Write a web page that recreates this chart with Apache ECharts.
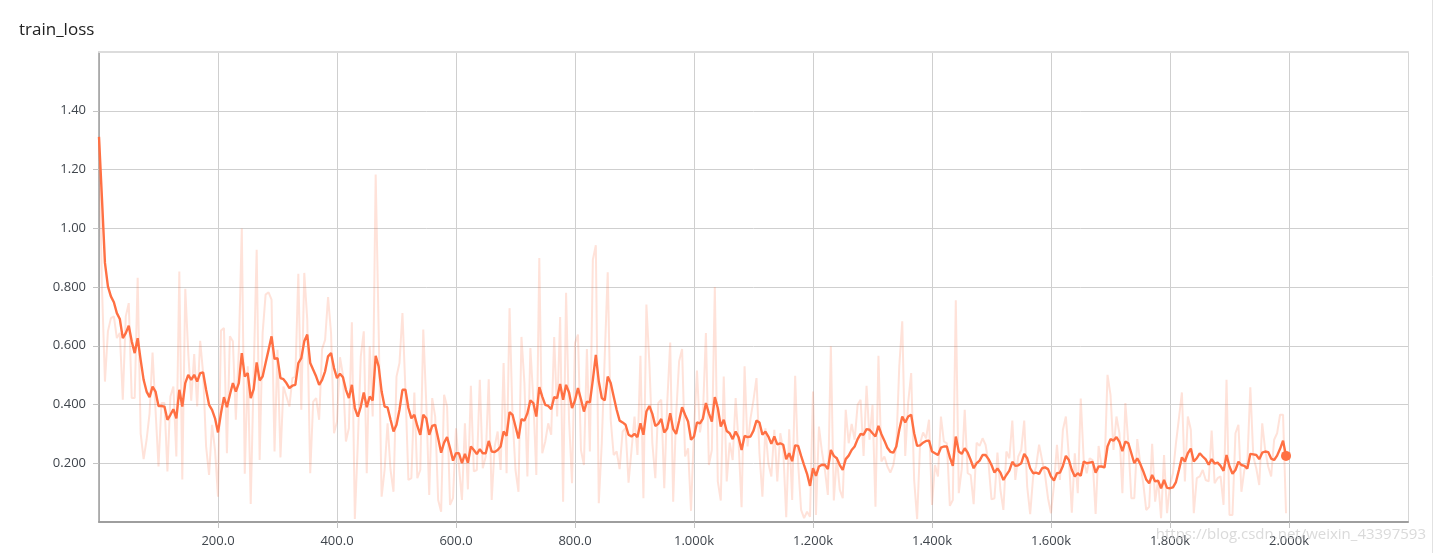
<!DOCTYPE html>
<html><head><meta charset="utf-8">
<script src="https://cdn.jsdelivr.net/npm/echarts@6/dist/echarts.min.js"></script>
<style>html,body{margin:0;padding:0;background:#fff}#c{width:1436px;height:553px}</style>
</head><body><div id="c"></div>
<script>
const chartTitle = 'train_loss';
const watermark = 'https://blog.csdn.net/weixin_43397593';
const STEP = 5; // logging interval (steps)

const rawLoss = [
1.311,0.80,0.478,0.649,0.694,0.70,0.626,0.643,0.416,0.70,
0.745,0.422,0.422,0.831,0.302,0.214,0.28,0.37,0.577,0.382,
0.189,0.405,0.405,0.172,0.427,0.461,0.223,0.853,0.145,0.794,
0.575,0.413,0.572,0.393,0.617,0.507,0.257,0.16,0.331,0.245,
0.086,0.652,0.66,0.234,0.632,0.615,0.348,0.586,0.999,0.164,
0.53,0.061,0.507,0.927,0.211,0.643,0.774,0.782,0.757,0.24,
0.586,0.22,0.461,0.427,0.393,0.49,0.495,0.845,0.382,0.848,
0.689,0.166,0.41,0.422,0.348,0.589,0.62,0.766,0.643,0.302,
0.342,0.561,0.501,0.274,
0.32,0.68,0.01,0.268,0.564,0.649,
0.166,0.598,0.359,1.183,0.655,0.086,0.177,0.336,0.177,0.103,
0.495,0.541,0.711,0.45,0.143,0.149,0.441,0.149,0.177,0.655,
0.405,0.092,0.422,0.359,0.075,0.035,0.433,0.393,0.058,0.081,
0.319,0.189,0.075,0.336,0.111,0.464,0.172,0.177,0.484,0.183,
0.223,0.486,0.075,0.257,0.308,0.177,0.541,0.166,0.728,0.359,
0.177,0.103,0.63,0.473,0.155,0.592,0.416,0.16,0.899,0.234,
0.274,0.336,0.297,0.63,0.359,0.698,0.069,0.78,0.348,0.132,
0.609,0.638,0.245,0.194,0.589,0.24,0.893,0.942,
0.064,0.268,
0.564,0.85,0.348,0.228,0.24,0.18,0.308,0.319,0.134,0.245,
0.359,0.228,0.566,0.081,0.74,0.541,0.268,0.149,0.405,0.416,
0.115,0.405,0.611,0.069,0.365,0.547,0.589,0.223,0.251,0.038,
0.311,0.516,0.305,0.365,0.643,0.194,0.245,0.8,0.138,0.073,
0.495,0.138,0.27,0.211,0.422,0.268,0.05,0.53,0.257,0.353,
0.416,0.49,0.234,0.086,0.319,0.2,0.155,0.314,0.138,0.302,
0.245,0.016,0.316,0.075,0.498,0.2,0.041,0.013,0.035,0.018,
0.444,0.024,0.325,0.24,0.177,0.092,0.598,0.073,0.22,0.11,
0.081,0.382,0.268,0.334,0.28,0.399,0.416,0.225,0.464,0.28,
0.399,0.052,0.566,0.206,0.223,0.189,0.168,0.194,0.257,0.53,
0.683,0.225,0.407,0.507,0.143,0.01,0.268,0.305,0.285,0.348,
0.058,0.194,0.155,0.359,0.274,0.268,0.055,0.075,0.755,0.098,
0.18,0.382,0.166,0.16,0.061,0.27,0.259,0.285,0.263,0.2,
0.077,0.081,0.236,0.109,0.041,0.24,0.217,0.345,0.143,0.223,
0.245,0.345,0.12,0.027,0.155,0.189,0.263,0.211,0.16,0.081,
0.03,0.126,0.263,0.143,0.314,0.359,0.223,0.032,0.234,0.098,
0.42,0.21,0.166,0.217,0.211,0.027,0.259,0.189,0.183,0.501,
0.433,0.245,0.359,0.302,0.098,0.405,0.268,0.081,0.081,0.282,
0.2,0.132,0.041,0.052,0.266,0.069,0.143,0.013,0.228,0.03,
0.126,0.166,0.268,0.353,0.441,0.138,0.359,0.314,0.03,0.149,
0.155,0.177,0.143,0.138,0.311,0.132,0.149,0.155,0.058,0.484,
0.024,0.024,0.302,0.331,0.103,0.177,0.202,0.459,0.223,0.183,
0.126,0.336,0.245,0.189,0.155,0.28,0.302,0.365,0.365,0.03
];

const smoothLoss = [
1.311,1.10,0.882,0.802,0.768,0.748,0.711,0.691,0.626,0.643,
0.668,0.615,0.575,0.626,0.552,0.484,0.444,0.425,0.461,0.444,
0.395,0.395,0.393,0.348,0.365,0.384,0.353,0.45,0.393,0.473,
0.501,0.484,0.501,0.478,0.507,0.509,0.45,0.399,0.382,0.353,
0.305,0.37,0.425,0.391,0.433,0.473,0.444,0.473,0.575,0.495,
0.507,0.422,0.452,0.543,0.482,0.495,0.541,0.586,0.632,0.555,
0.558,0.49,0.486,0.473,0.456,0.464,0.467,0.541,0.558,0.615,
0.638,0.541,0.518,0.495,0.467,0.484,0.513,0.564,0.575,0.524,
0.49,0.505,0.493,0.45,
0.422,0.467,0.388,0.359,0.393,0.441,
0.391,0.427,0.414,0.566,0.53,0.444,0.393,0.39,0.348,0.308,
0.331,0.382,0.45,0.45,0.388,0.353,0.365,0.327,0.297,0.365,
0.353,0.297,0.327,0.331,0.285,0.236,0.27,0.289,0.251,0.209,
0.234,0.234,0.2,0.232,0.202,0.257,0.245,0.231,0.248,0.234,
0.234,0.276,0.24,0.238,0.245,0.257,0.308,0.293,0.374,0.365,
0.325,0.284,0.35,0.345,0.37,0.414,0.405,0.359,0.459,0.427,
0.399,0.395,0.384,0.425,0.422,0.47,0.416,0.467,0.441,0.388,
0.414,0.456,0.418,0.376,0.41,0.407,0.484,0.569,
0.478,0.422,
0.414,0.495,0.473,0.427,0.382,0.345,0.339,0.331,0.297,0.291,
0.3,0.289,0.336,0.297,0.376,0.395,0.368,0.327,0.334,0.351,
0.305,0.318,0.37,0.316,0.3,0.345,0.391,0.365,0.342,0.28,
0.291,0.339,0.336,0.352,0.405,0.37,0.342,0.425,0.388,0.325,
0.348,0.31,0.302,0.282,0.308,0.288,0.245,0.293,0.289,0.291,
0.311,0.345,0.339,0.297,0.308,0.291,0.266,0.291,0.264,0.268,
0.263,0.214,0.234,0.207,0.261,0.259,0.225,0.194,0.164,0.123,
0.183,0.157,0.189,0.195,0.194,0.18,0.245,0.225,0.217,0.194,
0.177,0.214,0.226,0.245,0.257,0.282,0.3,0.297,0.316,0.314,
0.302,0.291,0.327,0.299,0.277,0.253,0.239,0.236,0.257,0.314,
0.359,0.339,0.359,0.365,0.302,0.259,0.261,0.27,0.276,0.277,
0.24,0.234,0.228,0.253,0.257,0.257,0.22,0.191,0.291,0.24,
0.232,0.251,0.236,0.211,0.183,0.2,0.209,0.228,0.228,0.214,
0.194,0.168,0.182,0.168,0.143,0.16,0.175,0.205,0.191,0.193,
0.2,0.232,0.217,0.183,0.166,0.168,0.164,0.183,0.186,0.18,
0.155,0.141,0.166,0.168,0.191,0.225,0.211,0.177,0.155,0.166,
0.157,0.206,0.2,0.202,0.205,0.168,0.189,0.189,0.186,0.257,
0.282,0.277,0.289,0.273,0.241,0.274,0.268,0.234,0.2,0.217,
0.198,0.173,0.145,0.132,0.16,0.138,0.141,0.115,0.143,0.116,
0.115,0.118,0.136,0.177,0.22,0.206,0.234,0.25,0.206,0.217,
0.234,0.223,0.213,0.195,0.214,0.199,0.202,0.191,0.174,0.228,
0.189,0.164,0.177,0.205,0.194,0.191,0.182,0.232,0.23,0.228,
0.214,0.236,0.24,0.238,0.216,0.211,0.226,0.249,0.277,0.225
];

const steps = rawLoss.map((_, i) => i * STEP);
const rawData = steps.map((s, i) => [s, rawLoss[i]]);
const smoothData = steps.map((s, i) => [s, smoothLoss[i]]);
const lastPoint = [[steps[steps.length - 1], smoothLoss[smoothLoss.length - 1]]];

const FONT = '"Open Sans", "Noto Sans", sans-serif';
const ORANGE = '#ff7043';

const fmtX = v => v < 1000 ? v.toFixed(1) : (v / 1000).toFixed(3) + 'k';
const fmtY = v => v < 1 ? v.toFixed(3) : v.toFixed(2);

const chart = echarts.init(document.getElementById('c'), null, {renderer: 'canvas'});
chart.setOption({
  animation: false,
  backgroundColor: '#fff',
  title: {
    text: chartTitle, left: 14, top: 17,
    textStyle: {fontFamily: FONT, fontSize: 17, fontWeight: 'normal', color: '#212121'}
  },
  grid: {left: 99, right: 28, top: 52, bottom: 31, containLabel: false},
  xAxis: [{
    type: 'value', min: 0, max: 2200, interval: 200,
    axisLine: {show: true, onZero: false, lineStyle: {color: '#9e9e9e', width: 2}},
    axisTick: {show: true, length: 6, lineStyle: {color: '#c4c4c4'}},
    splitLine: {show: true, lineStyle: {color: '#cfcfcf', width: 1}},
    axisLabel: {showMinLabel: false, showMaxLabel: false, margin: 13, formatter: fmtX,
      fontFamily: FONT, fontSize: 13, color: '#40464d'}
  }, {
    type: 'value', min: 0, max: 2200, position: 'top',
    axisLine: {show: true, onZero: false, lineStyle: {color: '#dcdcdc', width: 2}},
    axisTick: {show: false}, axisLabel: {show: false}, splitLine: {show: false}
  }],
  yAxis: [{
    type: 'value', min: 0, max: 1.6, interval: 0.2,
    axisLine: {show: true, onZero: false, lineStyle: {color: '#9e9e9e', width: 1.5}},
    axisTick: {show: true, length: 6, lineStyle: {color: '#c4c4c4'}},
    splitLine: {show: true, lineStyle: {color: '#cfcfcf', width: 1}},
    axisLabel: {showMinLabel: false, showMaxLabel: false, margin: 13, formatter: fmtY,
      fontFamily: FONT, fontSize: 13, color: '#40464d'}
  }, {
    type: 'value', min: 0, max: 1.6, position: 'right',
    axisLine: {show: true, onZero: false, lineStyle: {color: '#d6d6d6', width: 1}},
    axisTick: {show: false}, axisLabel: {show: false}, splitLine: {show: false}
  }],
  series: [{
    name: 'raw', type: 'line', data: rawData, symbol: 'none',
    lineStyle: {color: ORANGE, width: 2, opacity: 0.2}, z: 2
  }, {
    name: 'smoothed', type: 'line', data: smoothData, symbol: 'none',
    lineStyle: {color: ORANGE, width: 2.4}, z: 3
  }, {
    name: 'last', type: 'scatter', data: lastPoint, symbolSize: 10,
    itemStyle: {color: ORANGE, opacity: 1}, z: 4
  }],
  graphic: [{
    type: 'text', right: 10, top: 527, z: 100,
    style: {text: watermark, fill: 'rgba(205,205,205,0.75)', font: '15px ' + FONT}
  }, {
    type: 'line', shape: {x1: 1432.5, y1: 0, x2: 1432.5, y2: 553},
    style: {stroke: '#e2e2e2', lineWidth: 1}
  }]
});
</script>
</body></html>
